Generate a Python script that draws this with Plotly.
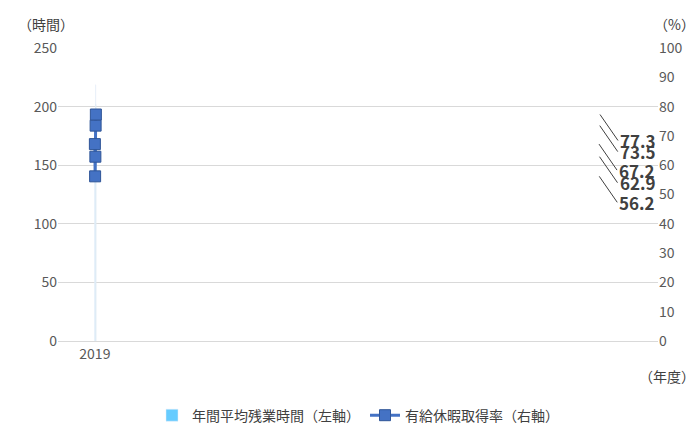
import plotly.graph_objects as go

years = ["2019", "2020", "2021", "2022", "2023"]
hours = [196.6, 140.9, 197.2, 218.7, 201.9]
rate = [67.2, 56.2, 62.9, 73.5, 77.3]

F = "Noto Sans CJK JP"
fig = go.Figure()
fig.add_trace(go.Bar(x=years, y=hours, name="年間平均残業時間（左軸）", marker_color="#66CCFF",
                     width=0.27, text=[f"<b>{v:.1f}</b>" for v in hours], textposition="outside",
                     textfont=dict(size=17, color="#404040", family=F), cliponaxis=False))
fig.add_trace(go.Scatter(x=years, y=rate, name="有給休暇取得率（右軸）", yaxis="y2", mode="lines+markers",
                         line=dict(color="#4472C4", width=3),
                         marker=dict(symbol="square", size=11, color="#4472C4", line=dict(color="#2F5597", width=1))))
for x, v in zip(years, rate):
    fig.add_annotation(x=x, y=v, yref="y2", text=f"<b>{v:.1f}</b>", showarrow=True, arrowhead=0,
                       arrowcolor="#404040", arrowwidth=1, ax=18, ay=26, xanchor="left",
                       font=dict(size=17, color="#404040", family=F))
fig.update_layout(
    width=700, height=436, plot_bgcolor="white", paper_bgcolor="white",
    margin=dict(l=50, r=50, t=40, b=84), bargap=0.5,
    font=dict(family=F, color="#595959", size=14),
    xaxis=dict(type="category", tickfont=dict(size=14, color="#595959"), showline=True, linecolor="#D9D9D9"),
    yaxis=dict(range=[0, 250], dtick=50, showgrid=True, gridcolor="#D9D9D9", zeroline=False),
    yaxis2=dict(range=[0, 100], dtick=10, overlaying="y", side="right", showgrid=False),
    legend=dict(orientation="h", x=0.5, xanchor="center", y=-0.2, yanchor="top",
                font=dict(size=14, color="#404040")),
)
fig.add_annotation(xref="paper", yref="paper", x=-0.07, y=1.04, text="（時間）", showarrow=False,
                   xanchor="left", yanchor="bottom", font=dict(size=14, color="#404040"))
fig.add_annotation(xref="paper", yref="paper", x=1.065, y=1.04, text="（%）", showarrow=False,
                   xanchor="right", yanchor="bottom", font=dict(size=14, color="#404040"))
fig.add_annotation(xref="paper", yref="paper", x=1.065, y=-0.08, text="（年度）", showarrow=False,
                   xanchor="right", yanchor="top", font=dict(size=14, color="#404040"))
fig.write_html("out.html")
